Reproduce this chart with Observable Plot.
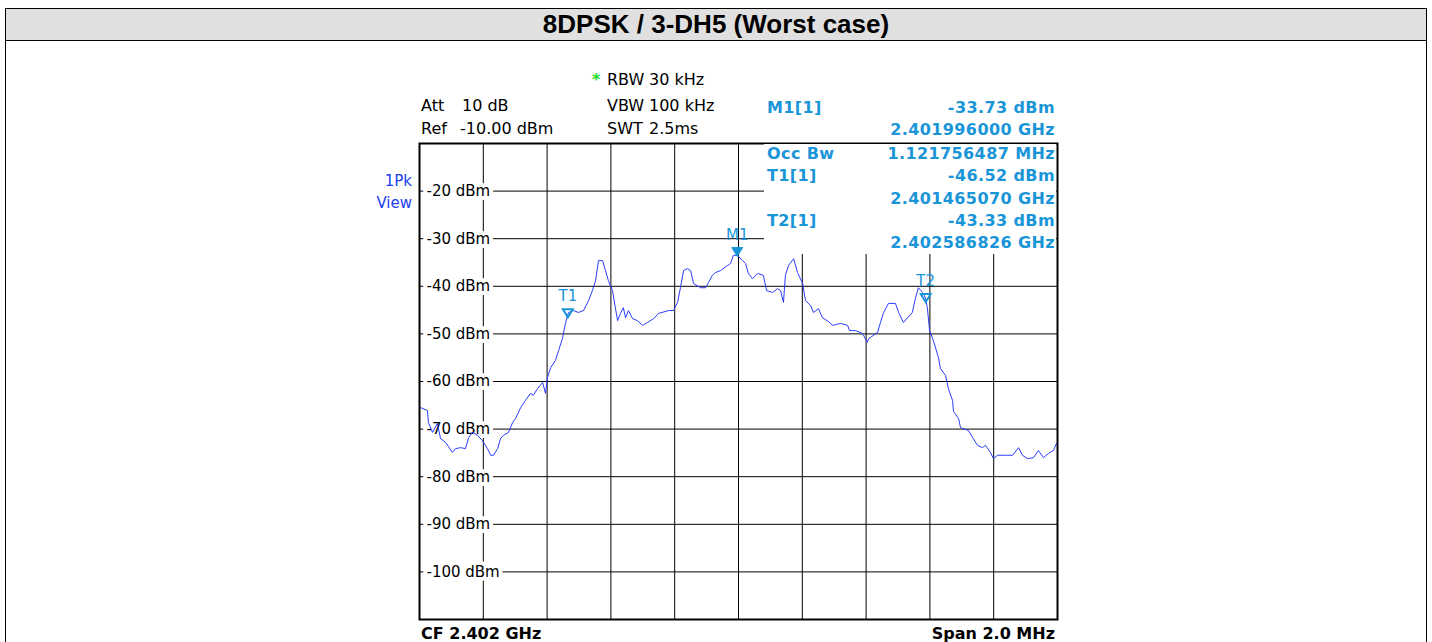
<!DOCTYPE html>
<html><head><meta charset="utf-8">
<script src="https://cdn.jsdelivr.net/npm/d3@7"></script>
<script src="https://cdn.jsdelivr.net/npm/@observablehq/plot@0.6"></script>
<style>
body{margin:0;background:#fff;}
#page{position:relative;width:1432px;height:642px;overflow:hidden;font-family:"DejaVu Sans",Verdana,sans-serif;}
#box{position:absolute;left:5px;top:8px;width:1420px;height:700px;border:1px solid #000;}
#title{position:absolute;left:6px;top:9px;width:1420px;height:31px;background:#e0e0e0;border-bottom:1px solid #000;font:bold 26px "Liberation Sans",Arial,sans-serif;text-align:center;line-height:31px;color:#000;}
#chart{position:absolute;left:0;top:41px;}
.t{position:absolute;white-space:pre;line-height:20px;font-size:16px;color:#000;}
.b{font-weight:bold;}
.f{font-weight:bold;line-height:13px;}
.m{color:#1a95d8;font-weight:bold;letter-spacing:0.4px;}
.v{color:#2040f0;font-size:15px;}
#cover{position:absolute;left:764px;top:144px;width:292px;height:110px;background:#fff;}
</style></head>
<body>
<div id="page">
<div id="box"></div>
<div id="title">8DPSK / 3-DH5 (Worst case)</div>
<div id="chart"></div>
<div id="cover"></div>
<div id="hdr"></div>
</div>
<script>
// ---- data ----
const offsetMHz = [-0.996,-0.975,-0.972,-0.959,-0.944,-0.934,-0.918,-0.897,-0.887,-0.871,
-0.856,-0.846,-0.834,-0.818,-0.803,-0.787,-0.777,-0.768,-0.755,-0.746,
-0.737,-0.721,-0.708,-0.699,-0.683,-0.668,-0.652,-0.643,-0.630,-0.614,
-0.605,-0.599,-0.589,-0.574,-0.564,-0.552,-0.542,-0.533,-0.517,-0.502,
-0.486,-0.470,-0.458,-0.448,-0.439,-0.426,-0.417,-0.408,-0.395,-0.386,
-0.379,-0.370,-0.361,-0.354,-0.345,-0.332,-0.317,-0.301,-0.285,-0.266,
-0.251,-0.219,-0.204,-0.191,-0.182,-0.172,-0.160,-0.150,-0.141,-0.119,
-0.103,-0.094,-0.082,-0.072,-0.056,-0.038,-0.025,-0.016,-0.003,0.013,
0.022,0.031,0.044,0.060,0.078,0.088,0.107,0.122,0.132,0.141,
0.147,0.157,0.173,0.185,0.201,0.210,0.226,0.235,0.251,0.263,
0.282,0.295,0.320,0.342,0.348,0.367,0.389,0.404,0.408,0.436,
0.445,0.455,0.470,0.492,0.502,0.517,0.545,0.555,0.564,0.577,
0.586,0.592,0.599,0.611,0.627,0.633,0.649,0.658,0.671,0.674,
0.690,0.696,0.721,0.734,0.749,0.765,0.774,0.790,0.799,0.812,
0.843,0.859,0.878,0.890,0.906,0.925,0.940,0.956,0.972,0.987,
0.997];
const levelDbm = [-65.5,-66.1,-68.6,-70.7,-68.8,-72.0,-72.8,-74.9,-74.1,-73.9,
-74.1,-71.8,-70.7,-71.3,-72.4,-74.1,-75.5,-75.5,-74.1,-72.0,
-71.3,-70.7,-68.6,-67.8,-65.5,-64.0,-62.5,-62.9,-61.5,-60.2,
-62.5,-59.2,-57.1,-55.6,-53.5,-51.0,-47.6,-45.5,-45.1,-45.5,
-45.1,-43.0,-40.9,-38.8,-34.6,-34.6,-36.7,-38.8,-40.9,-44.5,
-47.2,-45.7,-44.5,-46.6,-45.1,-46.8,-47.2,-48.2,-47.6,-46.8,
-45.7,-45.1,-45.1,-43.4,-40.3,-36.7,-36.3,-36.7,-39.4,-40.3,
-40.3,-39.2,-37.7,-37.1,-36.7,-35.8,-35.2,-33.5,-33.5,-34.6,
-35.2,-37.3,-38.4,-37.3,-37.7,-40.9,-41.3,-40.5,-40.9,-43.4,
-37.7,-35.6,-34.2,-37.1,-39.4,-43.0,-44.0,-45.5,-44.7,-46.6,
-47.4,-48.2,-47.8,-48.2,-49.3,-49.3,-49.9,-51.8,-51.0,-49.7,
-47.6,-45.5,-43.6,-43.6,-45.5,-47.6,-45.5,-42.4,-40.3,-41.3,
-42.4,-44.5,-49.3,-51.4,-55.0,-57.3,-58.7,-61.5,-64.0,-66.3,
-67.8,-69.7,-70.3,-71.8,-73.4,-73.9,-73.4,-74.9,-76.2,-75.5,
-75.5,-75.5,-73.9,-75.5,-76.2,-76.0,-74.5,-76.0,-75.1,-74.5,
-73.0];
const yTicks = [-20,-30,-40,-50,-60,-70,-80,-90,-100];
const xGrid = [-0.8,-0.6,-0.4,-0.2,0,0.2,0.4,0.6,0.8];
const markerNames = ["M1","T1","T2"];
const markerOffsetMHz = [-0.004,-0.53493,0.586826];
const markerLevelDbm = [-33.73,-46.52,-43.33];
const markerFilled = [true,false,false];
const settingsLeft = [["Att","10 dB"],["Ref","-10.00 dBm"]];
const settingsMid = [["RBW","30 kHz"],["VBW","100 kHz"],["SWT","2.5ms"]];
const tableRows = [["M1[1]","-33.73 dBm"],["","2.401996000 GHz"],["Occ Bw","1.121756487 MHz"],["T1[1]","-46.52 dBm"],["","2.401465070 GHz"],["T2[1]","-43.33 dBm"],["","2.402586826 GHz"]];
const footer = ["CF 2.402 GHz","Span 2.0 MHz"];
const traceName = ["1Pk","View"];

// ---- chart ----
const trace = offsetMHz.map((x,i)=>({x, y: levelDbm[i]}));
const markers = markerNames.map((n,i)=>({name:n, x:markerOffsetMHz[i], y:markerLevelDbm[i], filled:markerFilled[i]}));
const downTri = {draw(ctx, size){const r=Math.sqrt(size/Math.PI); ctx.moveTo(-1.1*r,-1.8*r); ctx.lineTo(1.1*r,-1.8*r); ctx.lineTo(0,0); ctx.closePath();}};
const mColor = "#1a95d8";
const chart = Plot.plot({
  width:1432, height:601,
  marginLeft:419, marginRight:375, marginTop:102, marginBottom:23,
  style:{background:"transparent", overflow:"visible"},
  x:{domain:[-1,1], axis:null},
  y:{domain:[-110,-10], axis:null},
  marks:[
    Plot.ruleX(xGrid, {x:d=>d, stroke:"#000", strokeWidth:1}),
    Plot.ruleY(yTicks, {y:d=>d, stroke:"#000", strokeWidth:1}),
    Plot.text(yTicks, {x:-1, y:d=>d, text:d=>`${d} dBm`, textAnchor:"start", dx:7, fill:"#000", stroke:"#fff", strokeWidth:8, paintOrder:"stroke", fontSize:15, fontFamily:"DejaVu Sans"}),
    Plot.line(trace, {x:"x", y:"y", stroke:"#2a3cff", strokeWidth:1}),
    Plot.frame({stroke:"#000", strokeWidth:2}),
    Plot.dot(markers.filter(d=>d.filled), {x:"x", y:"y", symbol:downTri, r:5, fill:mColor, stroke:mColor, strokeWidth:1}),
    Plot.dot(markers.filter(d=>!d.filled), {x:"x", y:"y", symbol:downTri, r:4.5, fill:"none", stroke:mColor, strokeWidth:2}),
    Plot.text(markers, {x:"x", y:"y", text:"name", dy:-21, fill:mColor, fontSize:15, fontFamily:"DejaVu Sans"})
  ]
});
document.getElementById("chart").appendChild(chart);

// ---- header / table text ----
const hdr = document.getElementById("hdr");
function put(txt, cls, left, top, right){
  const s = document.createElement("div");
  s.className = "t " + cls;
  s.textContent = txt;
  s.style.top = top + "px";
  if (right != null) s.style.right = right + "px"; else s.style.left = left + "px";
  hdr.appendChild(s);
}
const leftTops = [96,119];
settingsLeft.forEach((r,i)=>{put(r[0],"",421,leftTops[i]); put(r[1],"",r[0]==="Att"?462:460,leftTops[i]);});
const midTops = [70,96,119];
settingsMid.forEach((r,i)=>{put(r[0],"",607,midTops[i]); put(r[1],"",649,midTops[i]);});
const star = document.createElement("div"); star.className="t b"; star.textContent="*"; star.style.cssText="left:592px;top:70px;color:#22dd22;"; hdr.appendChild(star);
const tableTops = [98,120,144,166,189,211,233];
tableRows.forEach((r,i)=>{ if(r[0]) put(r[0],"m",767,tableTops[i]); put(r[1],"m",null,tableTops[i],377); });
put(traceName[0],"v",null,171,1020);
put(traceName[1],"v",null,193,1020);
put(footer[0],"f",421,627);
put(footer[1],"f",null,627,377);
</script>
</body></html>
